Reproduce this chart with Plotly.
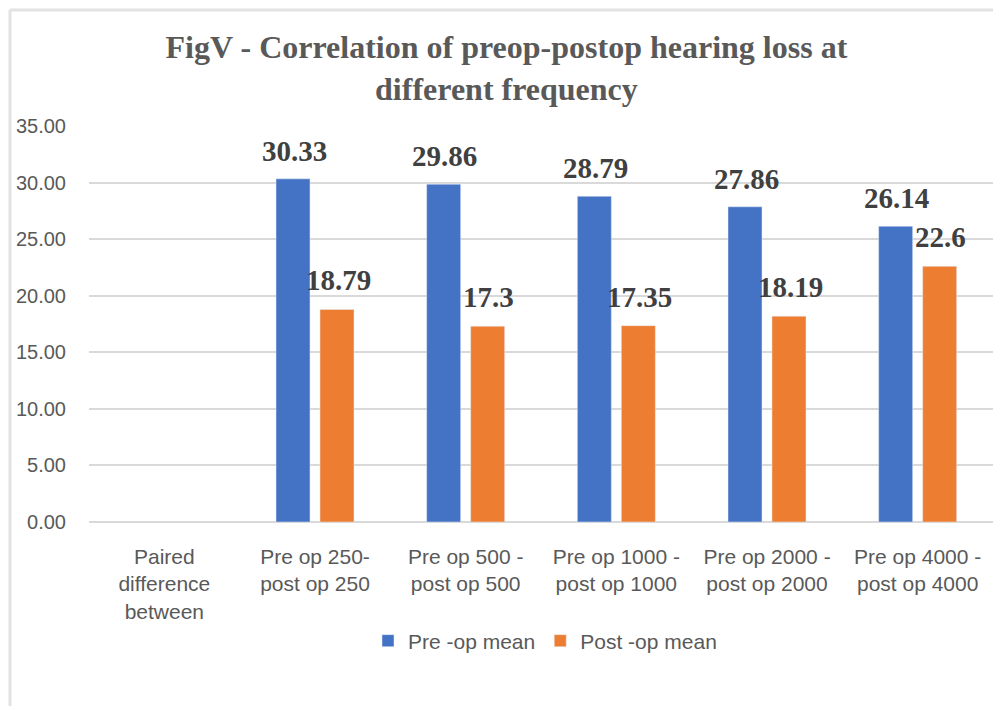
import plotly.graph_objects as go

categories = ["Paired<br>difference<br>between", "Pre op 250-<br>post op 250", "Pre op 500 -<br>post op 500",
              "Pre op 1000 -<br>post op 1000", "Pre op 2000 -<br>post op 2000", "Pre op 4000 -<br>post op 4000"]
pre_op = [None, 30.33, 29.86, 28.79, 27.86, 26.14]
post_op = [None, 18.79, 17.3, 17.35, 18.19, 22.6]
pre_labels = ["", "30.33", "29.86", "28.79", "27.86", "26.14"]
post_labels = ["", "18.79", "17.3", "17.35", "18.19", "22.6"]
y_ticks = [0, 5, 10, 15, 20, 25, 30, 35]

BLUE = "#4472C4"
ORANGE = "#ED7D31"
TXT = "#595959"
SANS = "Liberation Sans, Arial, sans-serif"
SERIF = "Liberation Serif, Times New Roman, serif"

fig = go.Figure()
fig.add_trace(go.Bar(name="Pre -op mean", x=categories, y=pre_op, marker_color=BLUE))
fig.add_trace(go.Bar(name="Post -op mean", x=categories, y=post_op, marker_color=ORANGE))

L, R, T, B = 89, 0, 126, 184
W, H = 993, 706
pw, ph = W - L - R, H - T - B

lab_font = dict(family=SERIF, size=29, color="#404040", weight="bold")
annotations = []
for c, v, t in zip(categories, pre_op, pre_labels):
    if v is None:
        continue
    annotations.append(dict(x=c, y=v, text=t, showarrow=False, xshift=-21, yshift=28,
                            yanchor="middle", font=lab_font, xref="x", yref="y"))
for c, v, t in zip(categories, post_op, post_labels):
    if v is None:
        continue
    annotations.append(dict(x=c, y=v, text=t, showarrow=False, xshift=23, yshift=29,
                            yanchor="middle", font=lab_font, xref="x", yref="y"))

def px_x(p):
    return (p - L) / pw

def px_y(p):
    return (H - B - p) / ph

border = "#e2e2e2"
shapes = [
    dict(type="line", xref="paper", yref="paper", x0=px_x(10), x1=px_x(993), y0=px_y(10), y1=px_y(10),
         line=dict(color=border, width=3)),
    dict(type="line", xref="paper", yref="paper", x0=px_x(10), x1=px_x(10), y0=px_y(10), y1=px_y(706),
         line=dict(color=border, width=3)),
]

fig.update_layout(
    width=W, height=H,
    margin=dict(l=L, r=R, t=T, b=B, autoexpand=False),
    paper_bgcolor="white", plot_bgcolor="white",
    barmode="group", bargap=0.416, bargroupgap=0.227,
    title=dict(text="FigV - Correlation of preop-postop hearing loss at<br>different frequency",
               x=0.51, xanchor="center", y=1 - 58 / H, yanchor="middle", yref="container",
               font=dict(family=SERIF, size=32, color=TXT, weight="bold")),
    font=dict(family=SANS, size=21, color=TXT),
    legend=dict(orientation="h", x=px_x(545), xanchor="center", y=px_y(641), yanchor="middle",
                font=dict(family=SANS, size=21, color=TXT), itemwidth=30, traceorder="normal"),
    annotations=annotations,
    shapes=shapes,
    showlegend=True,
)
fig.update_xaxes(showgrid=False, showline=False, ticks="", ticklabelstandoff=20,
                 tickfont=dict(family=SANS, size=21, color=TXT))
fig.update_yaxes(range=[0, 35], tickvals=y_ticks, tickformat=".2f", showgrid=True,
                 gridcolor="#d9d9d9", gridwidth=1.5, zeroline=True, zerolinecolor="#d9d9d9",
                 zerolinewidth=1.5, showline=False, ticks="", ticklabelstandoff=22,
                 tickfont=dict(family=SANS, size=20, color=TXT))

fig.write_html("out.html", config={"displayModeBar": False},
               post_script="document.body.style.margin='0';document.body.style.overflow='hidden';")
